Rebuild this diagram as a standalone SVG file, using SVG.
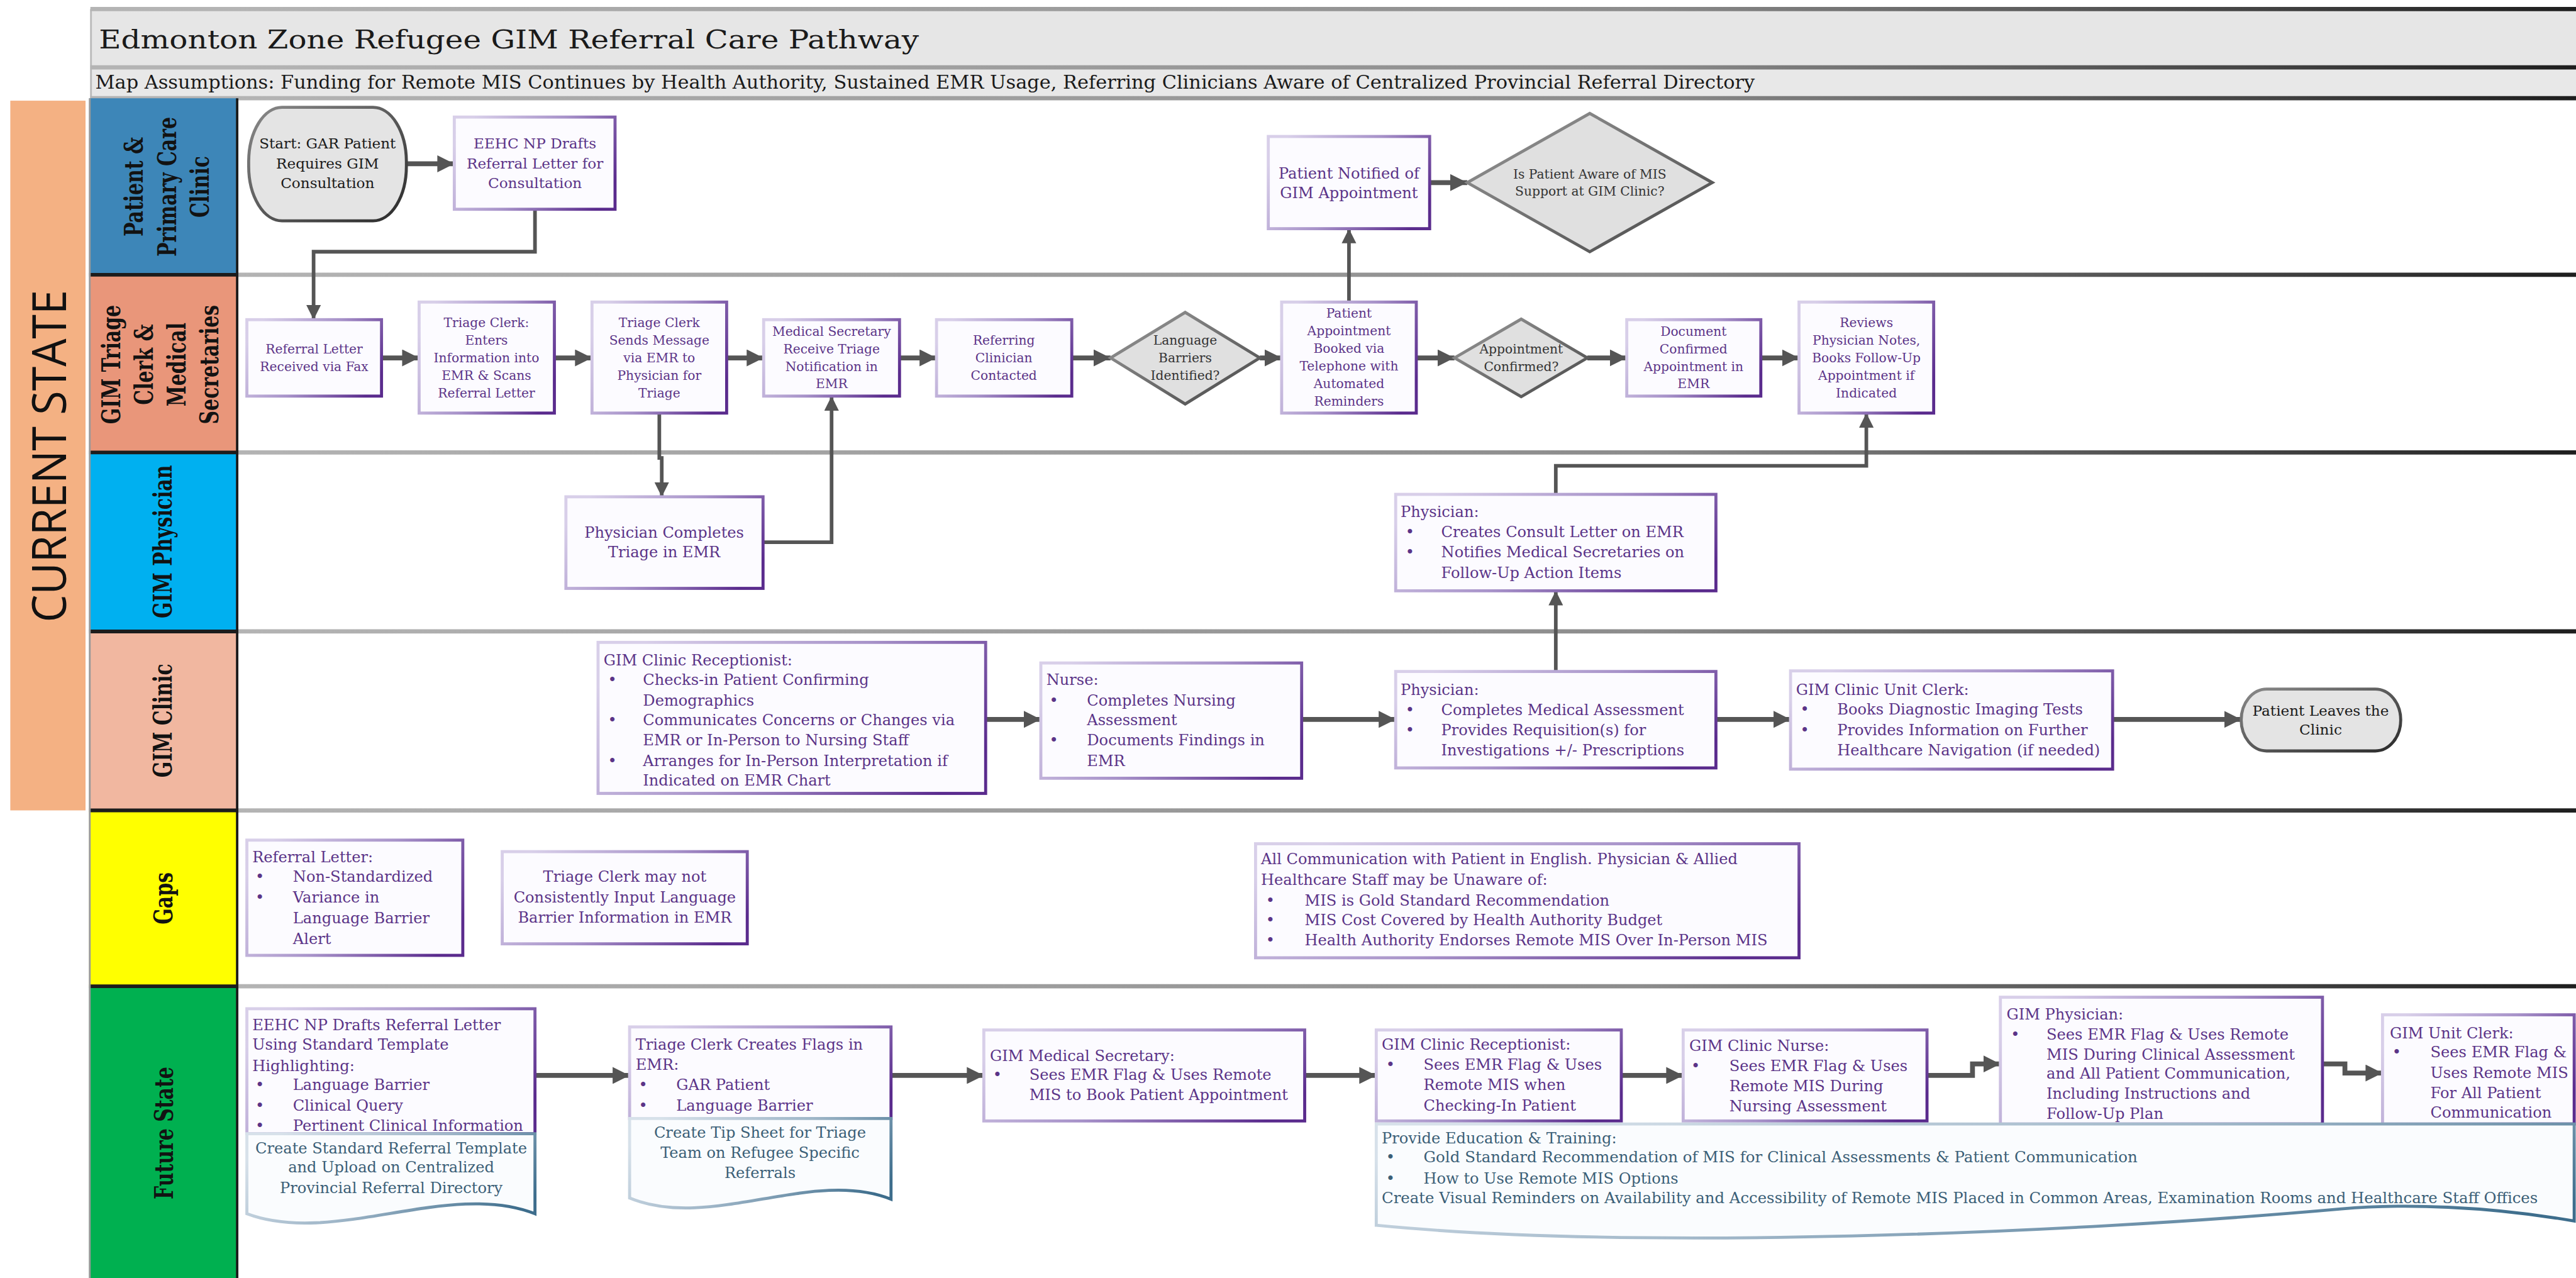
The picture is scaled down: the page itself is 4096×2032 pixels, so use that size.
<svg xmlns="http://www.w3.org/2000/svg" width="4096" height="2032" viewBox="0 0 4096 2032">
<defs>
<style>
.box{fill:#fcfbff;stroke:url(#pg);stroke-width:5}
.doc{fill:#fafcfe;stroke:url(#dg);stroke-width:5}
.dia{fill:#e0e0e0;stroke:url(#gg);stroke-width:5}
.term{fill:#e4e4e4;stroke:url(#tg);stroke-width:5}
.t{font-family:"DejaVu Serif","Liberation Serif",serif;font-size:25px;fill:#5b3488}
.s{font-size:21px}
.m{font-size:24px}
.c{text-anchor:middle}
.k{fill:#1a1a1a}
.g{fill:#333333}
.b{fill:#3b5f77}
.lane{font-family:"DejaVu Serif","Liberation Serif",serif;font-weight:bold;font-size:31px;fill:#121212;text-anchor:middle}
.sep{stroke:url(#sg);stroke-width:7}
.lsep{stroke:#1c1c1c;stroke-width:6}
.a1{fill:none;stroke:#555555;stroke-width:8;marker-end:url(#ah)}
.a2{fill:none;stroke:#555555;stroke-width:6;marker-end:url(#ah2)}
</style>
<linearGradient id="pg" x1="0" y1="0.3" x2="1" y2="0.7"><stop offset="0" stop-color="#d8cfe9"/><stop offset="0.5" stop-color="#a792c9"/><stop offset="1" stop-color="#5a2b8d"/></linearGradient>
<linearGradient id="dg" x1="0" y1="0.3" x2="1" y2="0.7"><stop offset="0" stop-color="#d7e1ea"/><stop offset="0.5" stop-color="#9fb6c8"/><stop offset="1" stop-color="#3d6d8c"/></linearGradient>
<linearGradient id="gg" x1="0" y1="0" x2="1" y2="1"><stop offset="0" stop-color="#9a9a9a"/><stop offset="1" stop-color="#474747"/></linearGradient>
<linearGradient id="tg" x1="0" y1="0" x2="1" y2="1"><stop offset="0" stop-color="#8a8a8a"/><stop offset="1" stop-color="#2a2a2a"/></linearGradient>
<linearGradient id="sg" gradientUnits="userSpaceOnUse" x1="392" y1="0" x2="4247" y2="0"><stop offset="0" stop-color="#b4b4b4"/><stop offset="0.6" stop-color="#8c8c8c"/><stop offset="1" stop-color="#1e1e1e"/></linearGradient>
<marker id="ah" viewBox="0 0 10 10" refX="10" refY="5" markerUnits="userSpaceOnUse" markerWidth="28" markerHeight="28" orient="auto"><path d="M0,0 L10,5 L0,10 z" fill="#555555"/></marker>
<marker id="ah2" viewBox="0 0 10 10" refX="10" refY="5" markerUnits="userSpaceOnUse" markerWidth="24" markerHeight="24" orient="auto"><path d="M0,0 L10,5 L0,10 z" fill="#555555"/></marker>
</defs>
<rect width="4096" height="2032" fill="#ffffff"/>
<g transform="scale(0.96445)">

<!-- header -->
<g id="header">
<rect x="149" y="15" width="4098" height="96" fill="#e6e6e6"/>
<rect x="149" y="111" width="4098" height="51" fill="#e8e8e8"/>
<line x1="150" y1="15" x2="150" y2="162" stroke="#bbbbbb" stroke-width="3"/>
<line class="sep" x1="149" y1="15" x2="4247" y2="15"/>
<line class="sep" x1="149" y1="111" x2="4247" y2="111"/>
<line class="sep" x1="149" y1="162" x2="4247" y2="162"/>
<text x="163" y="80" font-family="DejaVu Serif, Liberation Serif, serif" font-size="42" fill="#1a1a1a" textLength="1352" lengthAdjust="spacingAndGlyphs">Edmonton Zone Refugee GIM Referral Care Pathway</text>
<text x="157" y="146" font-family="DejaVu Serif, Liberation Serif, serif" font-size="31" fill="#1a1a1a" textLength="2736" lengthAdjust="spacingAndGlyphs">Map Assumptions: Funding for Remote MIS Continues by Health Authority, Sustained EMR Usage, Referring Clinicians Aware of Centralized Provincial Referral Directory</text>
</g>

<!-- current state bar -->
<g id="current-state">
<rect x="17" y="166" width="124" height="1170" fill="#f4b183"/>
<text transform="translate(81,752) rotate(-90)" x="0" y="28" text-anchor="middle" font-family="Open Sans, DejaVu Sans, sans-serif" font-size="78" fill="#111111" textLength="548" lengthAdjust="spacingAndGlyphs">CURRENT STATE</text>
</g>

<!-- lanes -->
<g id="lanes">
<rect x="147" y="162" width="244" height="291" fill="#3d86b8"/>
<rect x="147" y="453" width="244" height="293" fill="#e9967a"/>
<rect x="147" y="746" width="244" height="295" fill="#00b0f0"/>
<rect x="147" y="1041" width="244" height="295" fill="#f1b7a0"/>
<rect x="147" y="1336" width="244" height="290" fill="#ffff00"/>
<rect x="147" y="1626" width="244" height="481" fill="#00b050"/>
<line class="sep" x1="392" y1="453" x2="4247" y2="453"/>
<line class="sep" x1="392" y1="746" x2="4247" y2="746"/>
<line class="sep" x1="392" y1="1041" x2="4247" y2="1041"/>
<line class="sep" x1="392" y1="1336" x2="4247" y2="1336"/>
<line class="sep" x1="392" y1="1626" x2="4247" y2="1626"/>
<line class="lsep" x1="147" y1="453" x2="392" y2="453"/>
<line class="lsep" x1="147" y1="746" x2="392" y2="746"/>
<line class="lsep" x1="147" y1="1041" x2="392" y2="1041"/>
<line class="lsep" x1="147" y1="1336" x2="392" y2="1336"/>
<line class="lsep" x1="147" y1="1626" x2="392" y2="1626"/>
<line x1="391" y1="162" x2="391" y2="2107" stroke="#1c1c1c" stroke-width="4"/>
<line x1="148" y1="162" x2="148" y2="2107" stroke="#9a9a9a" stroke-width="3"/>
<text class="lane" transform="translate(268,308) scale(1.4,1) rotate(-90)"><tspan x="0" y="-23">Patient &amp;</tspan><tspan x="0" y="15.6">Primary Care</tspan><tspan x="0" y="54.2">Clinic</tspan></text>
<text class="lane" transform="translate(265,601) scale(1.4,1) rotate(-90)"><tspan x="0" y="-48">GIM Triage</tspan><tspan x="0" y="-9.5">Clerk &amp;</tspan><tspan x="0" y="29">Medical</tspan><tspan x="0" y="67.5">Secretaries</tspan></text>
<text class="lane" transform="translate(266,893) scale(1.4,1) rotate(-90)" x="0" y="12">GIM Physician</text>
<text class="lane" transform="translate(266,1188) scale(1.4,1) rotate(-90)" x="0" y="12">GIM Clinic</text>
<text class="lane" transform="translate(267,1481) scale(1.4,1) rotate(-90)" x="0" y="12">Gaps</text>
<text class="lane" transform="translate(268,1868) scale(1.4,1) rotate(-90)" x="0" y="12">Future State</text>
</g>

<!-- connectors -->
<g id="connectors">
<path class="a1" d="M670,270 H749"/>
<path class="a2" d="M882,345 V415 H517 V527"/>
<path class="a1" d="M629,590 H691"/>
<path class="a1" d="M914,590 H976"/>
<path class="a1" d="M1198,590 H1259"/>
<path class="a1" d="M1483,590 H1544"/>
<path class="a1" d="M1767,590 H1831"/>
<path class="a1" d="M2077,590 H2113"/>
<path class="a1" d="M2335,590 H2398"/>
<path class="a1" d="M2617,590 H2682"/>
<path class="a1" d="M2903,590 H2966"/>
<path class="a1" d="M2357,301 H2419"/>
<path class="a2" d="M2224,498 V377"/>
<path class="a2" d="M1087,681 V755 H1091 V819"/>
<path class="a2" d="M1258,894 H1371 V653"/>
<path class="a2" d="M2565,815 V768 H3077 V681"/>
<path class="a2" d="M2565,1107 V974"/>
<path class="a1" d="M1625,1186 H1716"/>
<path class="a1" d="M2146,1186 H2301"/>
<path class="a1" d="M2829,1186 H2952"/>
<path class="a1" d="M3483,1186 H3695"/>
<path class="a1" d="M882,1773 H1038"/>
<path class="a1" d="M1469,1773 H1622"/>
<path class="a1" d="M2151,1773 H2269"/>
<path class="a1" d="M2673,1773 H2775"/>
<path class="a1" d="M3177,1773 H3252 V1754 H3298"/>
<path class="a1" d="M3829,1754 H3866 V1769 H3928"/>
</g>

<!-- lane 1 -->
<g id="n-start"><rect class="term" x="410" y="177" width="260" height="187" rx="55" ry="90"/>
<text class="t m c k"><tspan x="540" y="245">Start: GAR Patient</tspan><tspan x="540" y="278">Requires GIM</tspan><tspan x="540" y="310">Consultation</tspan></text></g>
<g id="n-eehc-drafts"><rect class="box" x="749" y="193" width="265" height="152"/>
<text class="t m c"><tspan x="882" y="245">EEHC NP Drafts</tspan><tspan x="882" y="278">Referral Letter for</tspan><tspan x="882" y="310">Consultation</tspan></text></g>
<g id="n-patient-notified"><rect class="box" x="2091" y="225" width="266" height="152"/>
<text class="t c"><tspan x="2224" y="294">Patient Notified of</tspan><tspan x="2224" y="327">GIM Appointment</tspan></text></g>
<g id="n-aware-mis"><polygon class="dia" points="2419,301 2621,187 2823,301 2621,415"/>
<text class="t s c g"><tspan x="2621" y="294">Is Patient Aware of MIS</tspan><tspan x="2621" y="322">Support at GIM Clinic?</tspan></text></g>

<!-- lane 2 -->
<g id="n-referral-received"><rect class="box" x="407" y="527" width="222" height="126"/>
<text class="t s c"><tspan x="518" y="583">Referral Letter</tspan><tspan x="518" y="612">Received via Fax</tspan></text></g>
<g id="n-triage-enters"><rect class="box" x="691" y="498" width="223" height="183"/>
<text class="t s c"><tspan x="802" y="539">Triage Clerk:</tspan><tspan x="802" y="568">Enters</tspan><tspan x="802" y="597">Information into</tspan><tspan x="802" y="626">EMR &amp; Scans</tspan><tspan x="802" y="655">Referral Letter</tspan></text></g>
<g id="n-triage-sends"><rect class="box" x="976" y="498" width="222" height="183"/>
<text class="t s c"><tspan x="1087" y="539">Triage Clerk</tspan><tspan x="1087" y="568">Sends Message</tspan><tspan x="1087" y="597">via EMR to</tspan><tspan x="1087" y="626">Physician for</tspan><tspan x="1087" y="655">Triage</tspan></text></g>
<g id="n-medsec-receive"><rect class="box" x="1259" y="527" width="224" height="126"/>
<text class="t s c"><tspan x="1371" y="554">Medical Secretary</tspan><tspan x="1371" y="583">Receive Triage</tspan><tspan x="1371" y="612">Notification in</tspan><tspan x="1371" y="640">EMR</tspan></text></g>
<g id="n-referring-contacted"><rect class="box" x="1544" y="527" width="223" height="126"/>
<text class="t s c"><tspan x="1655" y="568">Referring</tspan><tspan x="1655" y="597">Clinician</tspan><tspan x="1655" y="626">Contacted</tspan></text></g>
<g id="n-language-barriers"><polygon class="dia" points="1831,590 1954,515 2077,590 1954,666"/>
<text class="t s c g"><tspan x="1954" y="568">Language</tspan><tspan x="1954" y="597">Barriers</tspan><tspan x="1954" y="626">Identified?</tspan></text></g>
<g id="n-appt-booked"><rect class="box" x="2113" y="498" width="222" height="183"/>
<text class="t s c"><tspan x="2224" y="524">Patient</tspan><tspan x="2224" y="553">Appointment</tspan><tspan x="2224" y="582">Booked via</tspan><tspan x="2224" y="611">Telephone with</tspan><tspan x="2224" y="640">Automated</tspan><tspan x="2224" y="669">Reminders</tspan></text></g>
<g id="n-appt-confirmed"><polygon class="dia" points="2398,590 2508,526 2617,590 2508,654"/>
<text class="t s c g"><tspan x="2508" y="583">Appointment</tspan><tspan x="2508" y="612">Confirmed?</tspan></text></g>
<g id="n-document-confirmed"><rect class="box" x="2682" y="527" width="221" height="126"/>
<text class="t s c"><tspan x="2792" y="554">Document</tspan><tspan x="2792" y="583">Confirmed</tspan><tspan x="2792" y="612">Appointment in</tspan><tspan x="2792" y="640">EMR</tspan></text></g>
<g id="n-reviews-notes"><rect class="box" x="2966" y="498" width="222" height="183"/>
<text class="t s c"><tspan x="3077" y="539">Reviews</tspan><tspan x="3077" y="568">Physician Notes,</tspan><tspan x="3077" y="597">Books Follow-Up</tspan><tspan x="3077" y="626">Appointment if</tspan><tspan x="3077" y="655">Indicated</tspan></text></g>

<!-- lane 3 -->
<g id="n-physician-triage"><rect class="box" x="933" y="819" width="325" height="151"/>
<text class="t c" font-size="26"><tspan x="1095" y="887">Physician Completes</tspan><tspan x="1095" y="919">Triage in EMR</tspan></text></g>
<g id="n-physician-consult"><rect class="box" x="2301" y="815" width="528" height="159"/>
<text class="t"><tspan x="2309" y="852">Physician:</tspan><tspan x="2317" y="885">•</tspan><tspan x="2376" y="885">Creates Consult Letter on EMR</tspan><tspan x="2317" y="919">•</tspan><tspan x="2376" y="919">Notifies Medical Secretaries on</tspan><tspan x="2376" y="953">Follow-Up Action Items</tspan></text></g>

<!-- lane 4 -->
<g id="n-clinic-receptionist"><rect class="box" x="986" y="1059" width="639" height="249"/>
<text class="t"><tspan x="995" y="1097">GIM Clinic Receptionist:</tspan><tspan x="1002" y="1129">•</tspan><tspan x="1060" y="1129">Checks-in Patient Confirming</tspan><tspan x="1060" y="1163">Demographics</tspan><tspan x="1002" y="1196">•</tspan><tspan x="1060" y="1196">Communicates Concerns or Changes via</tspan><tspan x="1060" y="1229">EMR or In-Person to Nursing Staff</tspan><tspan x="1002" y="1263">•</tspan><tspan x="1060" y="1263">Arranges for In-Person Interpretation if</tspan><tspan x="1060" y="1295">Indicated on EMR Chart</tspan></text></g>
<g id="n-nurse"><rect class="box" x="1716" y="1093" width="430" height="190"/>
<text class="t"><tspan x="1725" y="1129">Nurse:</tspan><tspan x="1730" y="1163">•</tspan><tspan x="1792" y="1163">Completes Nursing</tspan><tspan x="1792" y="1195">Assessment</tspan><tspan x="1730" y="1229">•</tspan><tspan x="1792" y="1229">Documents Findings in</tspan><tspan x="1792" y="1263">EMR</tspan></text></g>
<g id="n-physician-assessment"><rect class="box" x="2301" y="1107" width="528" height="159"/>
<text class="t"><tspan x="2309" y="1146">Physician:</tspan><tspan x="2317" y="1179">•</tspan><tspan x="2376" y="1179">Completes Medical Assessment</tspan><tspan x="2317" y="1212">•</tspan><tspan x="2376" y="1212">Provides Requisition(s) for</tspan><tspan x="2376" y="1245">Investigations +/- Prescriptions</tspan></text></g>
<g id="n-unit-clerk"><rect class="box" x="2952" y="1106" width="531" height="162"/>
<text class="t"><tspan x="2961" y="1146">GIM Clinic Unit Clerk:</tspan><tspan x="2968" y="1178">•</tspan><tspan x="3029" y="1178">Books Diagnostic Imaging Tests</tspan><tspan x="2968" y="1212">•</tspan><tspan x="3029" y="1212">Provides Information on Further</tspan><tspan x="3029" y="1245">Healthcare Navigation (if needed)</tspan></text></g>
<g id="n-patient-leaves"><rect class="term" x="3695" y="1136" width="263" height="102" rx="42" ry="51"/>
<text class="t m c k"><tspan x="3826" y="1180">Patient Leaves the</tspan><tspan x="3826" y="1211">Clinic</tspan></text></g>

<!-- lane 5 gaps -->
<g id="n-gap-referral"><rect class="box" x="407" y="1385" width="356" height="190"/>
<text class="t"><tspan x="416" y="1422">Referral Letter:</tspan><tspan x="421" y="1454">•</tspan><tspan x="483" y="1454">Non-Standardized</tspan><tspan x="421" y="1488">•</tspan><tspan x="483" y="1488">Variance in</tspan><tspan x="483" y="1522">Language Barrier</tspan><tspan x="483" y="1556">Alert</tspan></text></g>
<g id="n-gap-triage"><rect class="box" x="828" y="1404" width="404" height="152"/>
<text class="t c"><tspan x="1030" y="1454">Triage Clerk may not</tspan><tspan x="1030" y="1488">Consistently Input Language</tspan><tspan x="1030" y="1521">Barrier Information in EMR</tspan></text></g>
<g id="n-gap-communication"><rect class="box" x="2070" y="1391" width="896" height="188"/>
<text class="t"><tspan x="2079" y="1425">All Communication with Patient in English. Physician &amp; Allied</tspan><tspan x="2079" y="1459">Healthcare Staff may be Unaware of:</tspan><tspan x="2087" y="1493">•</tspan><tspan x="2151" y="1493">MIS is Gold Standard Recommendation</tspan><tspan x="2087" y="1525">•</tspan><tspan x="2151" y="1525">MIS Cost Covered by Health Authority Budget</tspan><tspan x="2087" y="1558">•</tspan><tspan x="2151" y="1558">Health Authority Endorses Remote MIS Over In-Person MIS</tspan></text></g>

<!-- lane 6 future state -->
<g id="n-future-referral"><rect class="box" x="407" y="1663" width="475" height="206"/>
<text class="t"><tspan x="416" y="1698">EEHC NP Drafts Referral Letter</tspan><tspan x="416" y="1731">Using Standard Template</tspan><tspan x="416" y="1766">Highlighting:</tspan><tspan x="421" y="1797">•</tspan><tspan x="483" y="1797">Language Barrier</tspan><tspan x="421" y="1831">•</tspan><tspan x="483" y="1831">Clinical Query</tspan><tspan x="421" y="1864">•</tspan><tspan x="483" y="1864">Pertinent Clinical Information</tspan></text></g>
<g id="n-doc-template"><path class="doc" d="M407,1869 H882 V2001 C740,1945 550,2055 407,2001 Z"/>
<text class="t c b"><tspan x="645" y="1902">Create Standard Referral Template</tspan><tspan x="645" y="1933">and Upload on Centralized</tspan><tspan x="645" y="1967">Provincial Referral Directory</tspan></text></g>
<g id="n-future-flags"><rect class="box" x="1038" y="1693" width="431" height="151"/>
<text class="t"><tspan x="1048" y="1731">Triage Clerk Creates Flags in</tspan><tspan x="1048" y="1764">EMR:</tspan><tspan x="1053" y="1797">•</tspan><tspan x="1115" y="1797">GAR Patient</tspan><tspan x="1053" y="1831">•</tspan><tspan x="1115" y="1831">Language Barrier</tspan></text></g>
<g id="n-doc-tipsheet"><path class="doc" d="M1038,1844 H1469 V1977 C1340,1925 1170,2030 1038,1975 Z"/>
<text class="t c b"><tspan x="1253" y="1876">Create Tip Sheet for Triage</tspan><tspan x="1253" y="1909">Team on Refugee Specific</tspan><tspan x="1253" y="1942">Referrals</tspan></text></g>
<g id="n-future-medsec"><rect class="box" x="1622" y="1698" width="529" height="150"/>
<text class="t"><tspan x="1632" y="1749">GIM Medical Secretary:</tspan><tspan x="1637" y="1780">•</tspan><tspan x="1697" y="1780">Sees EMR Flag &amp; Uses Remote</tspan><tspan x="1697" y="1813">MIS to Book Patient Appointment</tspan></text></g>
<g id="n-future-receptionist"><rect class="box" x="2269" y="1698" width="404" height="150"/>
<text class="t"><tspan x="2278" y="1731">GIM Clinic Receptionist:</tspan><tspan x="2285" y="1764">•</tspan><tspan x="2347" y="1764">Sees EMR Flag &amp; Uses</tspan><tspan x="2347" y="1797">Remote MIS when</tspan><tspan x="2347" y="1831">Checking-In Patient</tspan></text></g>
<g id="n-future-nurse"><rect class="box" x="2775" y="1698" width="402" height="150"/>
<text class="t"><tspan x="2785" y="1733">GIM Clinic Nurse:</tspan><tspan x="2788" y="1766">•</tspan><tspan x="2851" y="1766">Sees EMR Flag &amp; Uses</tspan><tspan x="2851" y="1799">Remote MIS During</tspan><tspan x="2851" y="1832">Nursing Assessment</tspan></text></g>
<g id="n-future-physician"><rect class="box" x="3298" y="1644" width="531" height="209"/>
<text class="t"><tspan x="3308" y="1681">GIM Physician:</tspan><tspan x="3315" y="1714">•</tspan><tspan x="3374" y="1714">Sees EMR Flag &amp; Uses Remote</tspan><tspan x="3374" y="1747">MIS During Clinical Assessment</tspan><tspan x="3374" y="1778">and All Patient Communication,</tspan><tspan x="3374" y="1811">Including Instructions and</tspan><tspan x="3374" y="1845">Follow-Up Plan</tspan></text></g>
<g id="n-future-unit-clerk"><rect class="box" x="3928" y="1673" width="316" height="180"/>
<text class="t"><tspan x="3940" y="1712">GIM Unit Clerk:</tspan><tspan x="3944" y="1743">•</tspan><tspan x="4007" y="1743">Sees EMR Flag &amp;</tspan><tspan x="4007" y="1777">Uses Remote MIS</tspan><tspan x="4007" y="1810">For All Patient</tspan><tspan x="4007" y="1843">Communication</tspan></text></g>
<g id="n-doc-education"><path class="doc" d="M2269,1853 H4244 V2013 C4100,1988 3960,1984 3860,1993 C3400,2034 2700,2062 2269,2020 Z"/>
<text class="t b"><tspan x="2278" y="1885">Provide Education &amp; Training:</tspan><tspan x="2285" y="1916">•</tspan><tspan x="2285" y="1951">•</tspan><tspan x="2347" y="1951">How to Use Remote MIS Options</tspan></text>
<text class="t b" x="2347" y="1916" textLength="1177" lengthAdjust="spacingAndGlyphs">Gold Standard Recommendation of MIS for Clinical Assessments &amp; Patient Communication</text>
<text class="t b" x="2278" y="1984" textLength="1906" lengthAdjust="spacingAndGlyphs">Create Visual Reminders on Availability and Accessibility of Remote MIS Placed in Common Areas, Examination Rooms and Healthcare Staff Offices</text>
</g>

</g>
</svg>
